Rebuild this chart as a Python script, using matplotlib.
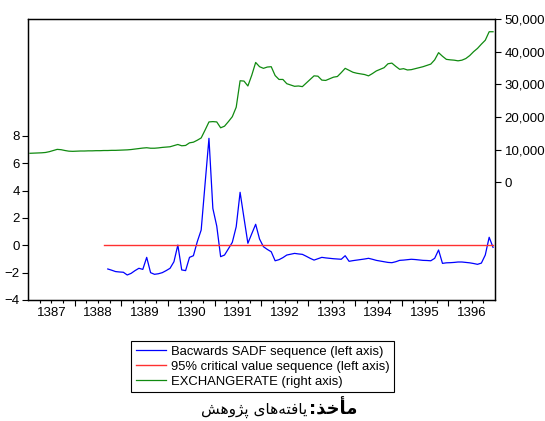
import numpy as np
import matplotlib
matplotlib.use('Agg')
import matplotlib.pyplot as plt
from matplotlib.ticker import FuncFormatter, FixedLocator

plt.rcParams['font.family'] = ['Liberation Sans', 'DejaVu Sans']

# monthly observations, 1387M01 .. 1396M12
exchange_rate = [
    8900, 8950, 9000, 9050, 9150, 9400, 9750, 10100, 10000, 9750, 9550, 9500,
    9550, 9600, 9600, 9650, 9650, 9700, 9700, 9750, 9750, 9800, 9800, 9850,
    9900, 9950, 10050, 10200, 10350, 10500, 10600, 10450, 10450, 10550, 10700, 10800,
    10900, 11250, 11600, 11200, 11300, 12100, 12300, 12900, 13600, 16000, 18500, 18600,
    18500, 16700, 17200, 18600, 20100, 23000, 31100, 31000, 29500, 32800, 36700, 35400,
    34900, 35300, 35400, 32700, 31500, 31500, 30200, 29800, 29400, 29500, 29300, 30400,
    31500, 32600, 32500, 31300, 31200, 31700, 32200, 32400, 33600, 34900, 34300, 33700,
    33400, 33200, 33000, 32600, 33300, 34100, 34600, 35100, 36300, 36500, 35500, 34600,
    34800, 34400, 34500, 34800, 35100, 35400, 35800, 36200, 37500, 39700, 38600, 37650,
    37500, 37400, 37200, 37400, 37900, 38800, 40000, 41000, 42300, 43500, 46100, 46100,
]

# backward SADF sequence starts at month index 20
sadf_start = 20
bsadf = [
    -1.73, -1.82, -1.92, -1.95, -1.97, -2.17, -2.05, -1.85, -1.68, -1.76,
    -0.88, -2.00, -2.12, -2.08, -2.00, -1.85, -1.68, -1.20, 0.02, -1.80,
    -1.85, -0.88, -0.76, 0.27, 1.12, 4.50, 7.83, 2.70, 1.41, -0.83,
    -0.71, -0.25, 0.22, 1.36, 3.88, 2.00, 0.15, 0.85, 1.54, 0.46,
    -0.10, -0.30, -0.47, -1.13, -1.05, -0.90, -0.71, -0.65, -0.59, -0.63,
    -0.66, -0.80, -0.95, -1.08, -0.98, -0.88, -0.92, -0.95, -0.98, -1.00,
    -1.02, -0.76, -1.17, -1.12, -1.08, -1.04, -1.00, -0.95, -1.02, -1.10,
    -1.15, -1.20, -1.25, -1.27, -1.20, -1.10, -1.08, -1.05, -1.02, -1.04,
    -1.07, -1.10, -1.11, -1.13, -0.95, -0.34, -1.32, -1.28, -1.27, -1.25,
    -1.22, -1.22, -1.25, -1.28, -1.33, -1.39, -1.30, -0.71, 0.59, -0.15,
]

# 95% critical value sequence starts at month index 19
cv_start = 19
critical_value = 0.0

years = list(range(1387, 1397))
left_ticks = [-4, -2, 0, 2, 4, 6, 8]
right_ticks = [0, 10000, 20000, 30000, 40000, 50000]

labels = ['Bacwards SADF sequence (left axis)',
          '95% critical value sequence (left axis)',
          'EXCHANGERATE (right axis)']

months = np.arange(len(exchange_rate))
t = 1387 + (months + 0.5) / 12.0

fig = plt.figure(figsize=(5.45, 4.21), dpi=100)
ax = fig.add_axes([28/545, 1 - 300/421, 467/545, 281/421])
ax2 = ax.twinx()

l1, = ax.plot(t[sadf_start:], bsadf, color='#0000ff', lw=0.9)
cv = np.full(len(t) - cv_start, critical_value)
l2, = ax.plot(t[cv_start:], cv, color='#ff3030', lw=1.0)
l3, = ax2.plot(t, exchange_rate, color='#108a10', lw=0.9)

ax.set_xlim(1387, 1397)
ax.set_ylim(-4, 16.56)
ax2.set_ylim(-36000, 50000)

ax.set_yticks(left_ticks)
ax2.set_yticks(right_ticks)
ax2.yaxis.set_major_formatter(FuncFormatter(lambda v, p: f'{int(v):,}'))

# long ticks at year boundaries, short ticks at quarters
ax.set_xticks(years[1:])
ax.set_xticklabels([])
quarters = [y + q for y in years for q in (0.25, 0.5, 0.75)]
ax.xaxis.set_minor_locator(FixedLocator(quarters))
ax.tick_params(axis='x', which='major', direction='out', length=4.5, width=0.8)
ax.tick_params(axis='x', which='minor', direction='out', length=2.5, width=0.8)

# year labels centred in each year
sec = ax.secondary_xaxis('bottom')
sec.set_xticks([y + 0.5 for y in years])
sec.set_xticklabels([str(y) for y in years])
sec.tick_params(length=0, pad=5, labelsize=9.5)
sec.spines['bottom'].set_visible(False)

ax.tick_params(axis='y', direction='out', length=4, width=0.8, labelsize=9.5, pad=2)
ax2.tick_params(axis='y', direction='out', length=4, width=0.8, labelsize=9.5, pad=3)

for a in (ax, ax2):
    for s in a.spines.values():
        s.set_linewidth(0.9)
        s.set_color('black')

leg = fig.legend([l1, l2, l3], labels, loc='upper left',
                 bbox_to_anchor=(131/545, 1 - 341/421), fontsize=9.4,
                 fancybox=False, framealpha=1, edgecolor='black',
                 handlelength=2.3, handletextpad=0.4, labelspacing=0.22,
                 borderpad=0.35, borderaxespad=0)
leg.get_frame().set_linewidth(0.8)

# caption "مأخذ: یافته‌های پژوهش" written with shaped Arabic presentation forms
caption_text = '\uFEB6\uFEEB\uFEED\uFB8B\uFB58 \uFBFC\uFE8E\uFEEB\uFEEA\uFE98\uFED3\uFE8E\uFBFE'
caption_bold = ':\uFEAC\uFEA7\uFE84\uFEE3'
fig.text(307/545, 1 - 410/421, caption_text, ha='right', va='center',
         family='DejaVu Sans', fontsize=11)
fig.text(309/545, 1 - 409/421, caption_bold, ha='left', va='center',
         family='DejaVu Sans', fontweight='bold', fontsize=13)

plt.savefig('out.png', dpi=100)
